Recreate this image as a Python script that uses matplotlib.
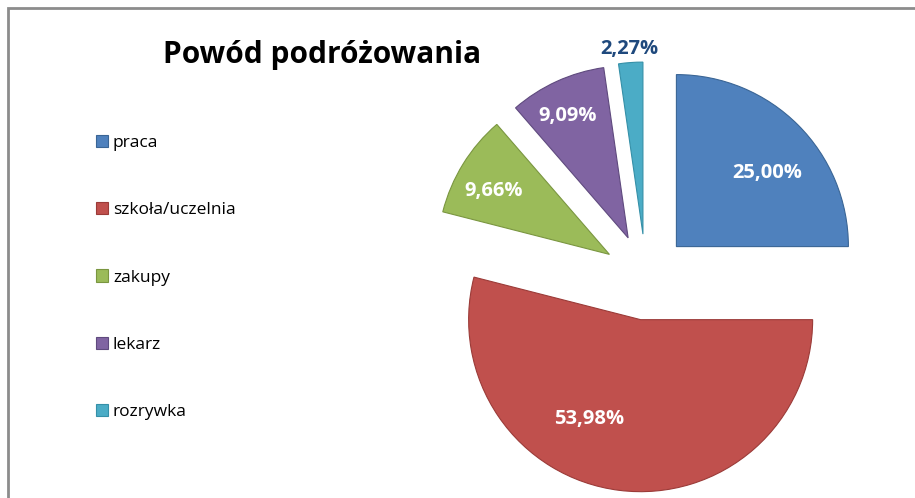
import matplotlib.pyplot as plt
import numpy as np
from matplotlib.patches import Rectangle

# data
categories = ['praca', 'szkoła/uczelnia', 'zakupy', 'lekarz', 'rozrywka']
values = [25.00, 53.98, 9.66, 9.09, 2.27]
colors = ['#4F81BD', '#C0504D', '#9BBB59', '#8064A2', '#4BACC6']
edges = ['#3A6595', '#9B3B38', '#7A9640', '#5F4A7E', '#3590A8']
label_dist = [0.68, 0.65, 0.77, 0.79, 1.08]
label_shift = [-6, -20, 3, 2, 0]  # degrees, Excel puts labels a bit off the middle

plt.rcParams['font.family'] = ['Open Sans', 'DejaVu Sans']

W, H, dpi = 915, 498, 100
fig = plt.figure(figsize=(W / dpi, H / dpi), dpi=dpi)
fig.patch.set_facecolor('white')

# chart frame (only left and top edge visible)
fig.patches.append(Rectangle((8 / W, -0.2), 1.2, (498 - 8) / H + 0.2,
                             transform=fig.transFigure, fill=False,
                             edgecolor='#8C8C8C', linewidth=2))

ax = fig.add_axes([0, 0, 1, 1])
R = 172.0
cx, cy = 646, 498 - 277

wedges, _ = ax.pie(values, colors=colors, startangle=90, counterclock=False,
                   explode=[0.25] * len(values), radius=1,
                   wedgeprops=dict(linewidth=0.8))
for w, ec in zip(wedges, edges):
    w.set_edgecolor(ec)

ax.set_xlim(-cx / R, (W - cx) / R)
ax.set_ylim(-cy / R, (H - cy) / R)
ax.set_aspect('auto')
ax.axis('off')

for w, v, d, s in zip(wedges, values, label_dist, label_shift):
    mid = np.deg2rad((w.theta1 + w.theta2) / 2 + s)
    x0, y0 = w.center
    txt = f'{v:.2f}%'.replace('.', ',')
    col = 'white' if d < 1 else '#1F497D'
    ax.text(x0 + d * np.cos(mid), y0 + d * np.sin(mid), txt, color=col,
            fontsize=14.5, fontweight='bold', ha='center', va='center')

fig.text(163 / W, 1 - 55 / H, 'Powód podróżowania', fontsize=21.5,
         fontweight='bold', ha='left', va='center')

fig.legend(wedges, categories, loc='upper left',
           bbox_to_anchor=(80 / W, 1 - 119 / H), frameon=False,
           fontsize=12.5, handlelength=0.7, handleheight=0.7,
           handletextpad=0.3, labelspacing=2.95)

fig.savefig('out.png', dpi=dpi)
